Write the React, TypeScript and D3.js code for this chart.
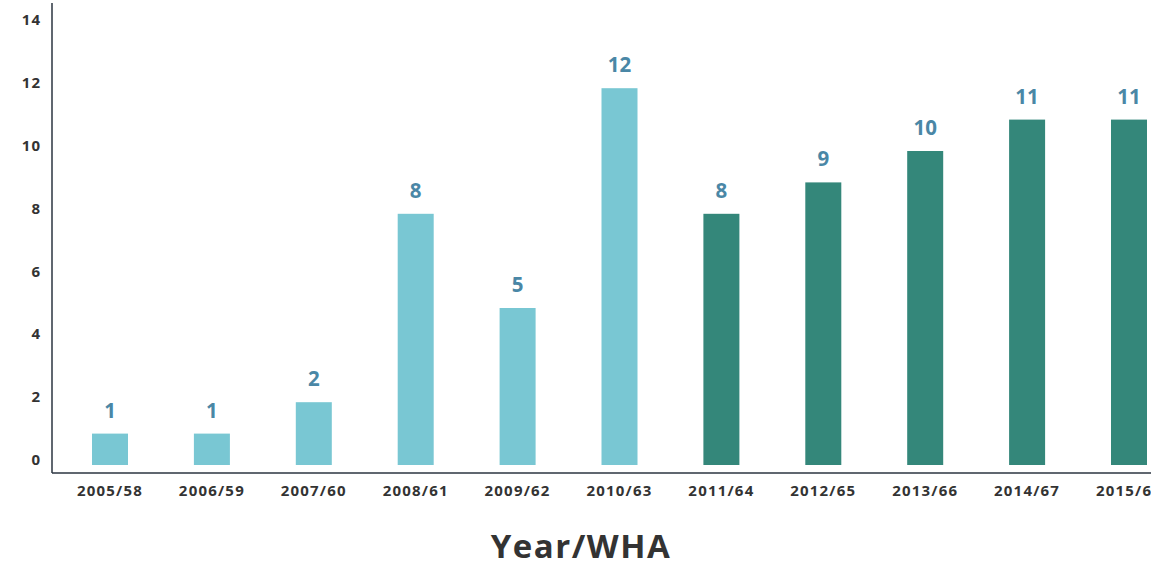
import React from 'react';
import * as d3 from 'd3';

// Chart data
const categories = [
  '2005/58', '2006/59', '2007/60', '2008/61', '2009/62', '2010/63',
  '2011/64', '2012/65', '2013/66', '2014/67', '2015/66',
];
const values = [1, 1, 2, 8, 5, 12, 8, 9, 10, 11, 11];
const groups = ['a', 'a', 'a', 'a', 'a', 'a', 'b', 'b', 'b', 'b', 'b'];
const yTicks = [0, 2, 4, 6, 8, 10, 12, 14];

const WIDTH = 1151;
const HEIGHT = 567;
const FONT = "'Open Sans', 'Noto Sans', sans-serif";

const App: React.FC = () => {
  const x = d3.scalePoint<string>().domain(categories).range([110, 1129]);
  const y = d3.scaleLinear().domain([0, 14]).range([465, 25.4]);
  const color = d3.scaleOrdinal<string, string>().domain(['a', 'b']).range(['#79c7d3', '#34877a']);
  const barW = 36;

  return (
    <svg
      width={WIDTH}
      height={HEIGHT}
      style={{ position: 'absolute', left: 0, top: 0, background: '#fff' }}
    >
      {/* axes */}
      <line x1={52} x2={52} y1={3} y2={473} stroke="#2b3440" strokeWidth={1.5} />
      <line x1={52} x2={WIDTH} y1={473} y2={473} stroke="#2b3440" strokeWidth={1.5} />

      {yTicks.map((t) => (
        <text
          key={t}
          x={41}
          y={y(t) - 4}
          textAnchor="end"
          dominantBaseline="middle"
          fontFamily={FONT}
          fontWeight={700}
          fontSize={15}
          letterSpacing={1}
          fill="#333"
        >
          {t}
        </text>
      ))}

      {categories.map((c, i) => {
        const cx = x(c) as number;
        return (
          <g key={c}>
            <rect
              x={cx - barW / 2}
              y={y(values[i])}
              width={barW}
              height={y(0) - y(values[i])}
              fill={color(groups[i])}
            />
            <text
              x={cx}
              y={y(values[i]) - 16}
              textAnchor="middle"
              fontFamily={FONT}
              fontWeight={700}
              fontSize={20.5}
              fill="#4a87a6"
            >
              {values[i]}
            </text>
            <text
              x={cx}
              y={496}
              textAnchor="middle"
              fontFamily={FONT}
              fontWeight={700}
              fontSize={15}
              letterSpacing={1.2}
              fill="#333"
            >
              {c}
            </text>
          </g>
        );
      })}

      <text
        x={581}
        y={558}
        textAnchor="middle"
        fontFamily={FONT}
        fontWeight={700}
        fontSize={33}
        letterSpacing={1.5}
        fill="#333"
      >
        Year/WHA
      </text>
    </svg>
  );
};

export default App;
